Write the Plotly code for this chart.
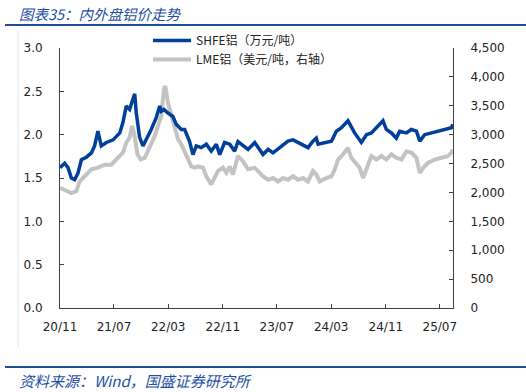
import plotly.graph_objects as go

# ---- data ----
shfe_dates = ["2020-11-01","2020-11-22","2020-12-07","2020-12-22","2021-01-06","2021-01-21","2021-02-05",
    "2021-02-27","2021-03-22","2021-04-05","2021-04-20","2021-05-05","2021-05-28","2021-06-27",
    "2021-07-27","2021-08-10","2021-08-25","2021-09-09","2021-09-20","2021-10-02","2021-10-09",
    "2021-10-24","2021-11-08","2021-11-23","2021-12-15","2022-01-07","2022-01-22","2022-01-29",
    "2022-02-10","2022-02-28","2022-03-22","2022-04-06","2022-04-29","2022-05-14","2022-06-05",
    "2022-06-20","2022-07-05","2022-07-27","2022-08-19","2022-09-10","2022-10-03","2022-10-18",
    "2022-11-09","2022-12-02","2022-12-24","2023-01-08","2023-01-30","2023-02-22","2023-03-24",
    "2023-04-08","2023-04-30","2023-05-23","2023-06-14","2023-07-14","2023-08-20","2023-09-12",
    "2023-10-04","2023-10-27","2023-11-18","2023-12-10","2023-12-25","2024-01-02","2024-02-01",
    "2024-03-02","2024-03-24","2024-04-16","2024-05-15","2024-05-30","2024-06-14","2024-07-14",
    "2024-08-06","2024-08-28","2024-09-20","2024-10-19","2024-11-03","2024-11-26","2024-12-18",
    "2025-01-02","2025-02-01","2025-02-23","2025-03-18","2025-04-02","2025-04-24","2025-05-24",
    "2025-06-23","2025-07-23","2025-08-22","2025-08-28"]
shfe_values = [1.62,1.67,1.62,1.50,1.48,1.56,1.71,
    1.74,1.79,1.87,2.04,1.87,1.91,1.94,
    2.02,2.14,2.33,2.29,2.38,2.47,2.25,
    1.97,1.87,1.94,2.06,2.20,2.33,2.27,
    2.29,2.25,2.21,2.12,2.06,2.06,1.92,
    1.77,1.87,1.85,1.89,1.81,1.89,1.77,
    1.91,1.89,1.81,1.92,1.87,1.83,1.91,
    1.85,1.77,1.83,1.79,1.85,1.925,1.94,
    1.91,1.89,1.85,1.925,1.96,1.89,1.91,
    1.925,2.04,2.08,2.16,2.08,2.02,1.91,
    2.00,2.02,2.08,2.16,2.06,2.02,1.96,
    2.04,2.02,2.06,2.04,1.925,2.00,2.02,
    2.04,2.06,2.08,2.12]

lme_dates = ["2020-11-01","2020-11-22","2020-12-22","2021-01-13","2021-01-28","2021-02-20","2021-03-22",
    "2021-04-20","2021-05-20","2021-06-19","2021-07-19","2021-08-10","2021-08-25","2021-09-09",
    "2021-09-20","2021-09-29","2021-10-14","2021-10-29","2021-11-16","2021-12-08","2021-12-30",
    "2022-01-14","2022-01-29","2022-02-10","2022-02-16","2022-02-28","2022-03-15","2022-03-30",
    "2022-04-14","2022-04-29","2022-05-14","2022-05-29","2022-06-13","2022-06-28","2022-07-13",
    "2022-08-04","2022-08-19","2022-09-10","2022-09-25","2022-10-10","2022-11-02","2022-11-17",
    "2022-12-02","2022-12-16","2023-01-08","2023-01-30","2023-02-22","2023-03-24","2023-04-08",
    "2023-04-30","2023-05-23","2023-06-14","2023-07-07","2023-07-29","2023-08-20","2023-09-12",
    "2023-10-04","2023-10-27","2023-11-18","2023-12-10","2023-12-25","2024-01-09","2024-02-08",
    "2024-03-02","2024-03-17","2024-04-01","2024-04-23","2024-05-15","2024-05-30","2024-06-14",
    "2024-07-07","2024-07-22","2024-08-13","2024-08-28","2024-09-20","2024-10-12","2024-11-03",
    "2024-11-26","2024-12-18","2025-01-10","2025-02-01","2025-02-23","2025-03-18","2025-04-02",
    "2025-04-17","2025-05-09","2025-06-08","2025-07-08","2025-08-07","2025-08-22","2025-08-28"]
lme_values = [2080,2050,1990,2020,2190,2280,2400,
    2430,2480,2480,2600,2690,2860,2950,
    3150,3030,2660,2570,2600,2770,2970,
    3150,3320,3790,3840,3550,3320,3150,
    2920,2830,2710,2600,2450,2430,2450,
    2430,2280,2140,2250,2370,2430,2340,
    2450,2310,2630,2540,2400,2425,2370,
    2280,2220,2250,2190,2250,2220,2280,
    2220,2250,2190,2370,2310,2190,2250,
    2280,2400,2570,2660,2770,2600,2540,
    2425,2250,2450,2630,2570,2630,2570,
    2660,2600,2570,2710,2690,2600,2340,
    2425,2510,2570,2600,2630,2690,2740]

tick_dates = ["2020-11-01","2021-07-01","2022-03-01","2022-11-01","2023-07-01","2024-03-01","2024-11-01","2025-07-01"]
tick_labels = ["20/11","21/07","22/03","22/11","23/07","24/03","24/11","25/07"]

# ---- layout geometry (pixels) ----
W, H = 526, 392
L, R, T, B = 60, 453, 48, 308

def px(x):
    return (x - L) / (R - L)

def py(y):
    return (B - y) / (B - T)

BLUE = "#003F9A"
GRAY = "#C3C3C3"
TXT_BLUE = "#1E4FA3"
FONT = "DejaVu Sans, Noto Sans CJK SC, sans-serif"
CJK = "Noto Sans CJK SC, sans-serif"

fig = go.Figure()
fig.add_trace(go.Scatter(x=shfe_dates, y=shfe_values, mode="lines", name="SHFE铝（万元/吨）",
                         line=dict(color=BLUE, width=3.5), yaxis="y2"))
fig.add_trace(go.Scatter(x=lme_dates, y=lme_values, mode="lines", name="LME铝（美元/吨，右轴）",
                         line=dict(color=GRAY, width=4), yaxis="y"))

axis_common = dict(showgrid=False, zeroline=False, showline=True, linecolor="#404040", linewidth=1,
                   ticks="inside", ticklen=4, tickcolor="#404040", automargin=False,
                   tickfont=dict(family=FONT, size=12, color="#222222"))

fig.update_layout(
    width=W, height=H,
    margin=dict(l=L, r=W - R, t=T, b=H - B, pad=0, autoexpand=False),
    paper_bgcolor="white", plot_bgcolor="white",
    showlegend=True,
    legend=dict(xref="container", yref="container", x=148 / W, y=1 - 26 / H,
                xanchor="left", yanchor="top", bgcolor="rgba(0,0,0,0)",
                font=dict(family=CJK, size=12, color="#222222"), tracegroupgap=0, itemwidth=38),
    xaxis=dict(type="date", range=["2020-11-01", "2025-08-29"], tickvals=tick_dates, ticktext=tick_labels,
               ticklabelstandoff=8, **axis_common),
    yaxis=dict(side="right", range=[0, 4500], dtick=500, tickformat=",", ticklabelstandoff=14, **axis_common),
    yaxis2=dict(side="left", overlaying="y", range=[0, 3], dtick=0.5, tickformat=".1f",
                ticklabelstandoff=14, **axis_common),
)

fig.add_annotation(text="<i>图表35：内外盘铝价走势</i>", xref="paper", yref="paper",
                   x=px(17), y=py(13), xanchor="left", yanchor="middle", showarrow=False,
                   font=dict(family=CJK, size=14.5, color=TXT_BLUE))
fig.add_annotation(text="<i>资料来源：Wind，国盛证券研究所</i>", xref="paper", yref="paper",
                   x=px(17), y=py(380), xanchor="left", yanchor="middle", showarrow=False,
                   font=dict(family=CJK, size=15, color=TXT_BLUE))
fig.add_shape(type="line", xref="paper", yref="paper", x0=px(5), x1=px(526), y0=py(25), y1=py(25),
              line=dict(color="#1F4E9A", width=2))
fig.add_shape(type="line", xref="paper", yref="paper", x0=px(5), x1=px(526), y0=py(367), y1=py(367),
              line=dict(color="#1F4E9A", width=2))
fig.add_shape(type="line", xref="paper", yref="paper", x0=px(18), x1=px(18), y0=py(30), y1=py(347),
              line=dict(color="#E6E6E6", width=1))

fig.write_html("out.html", config={"displayModeBar": False},
               post_script="document.body.style.margin='0';document.body.style.overflow='hidden';")
